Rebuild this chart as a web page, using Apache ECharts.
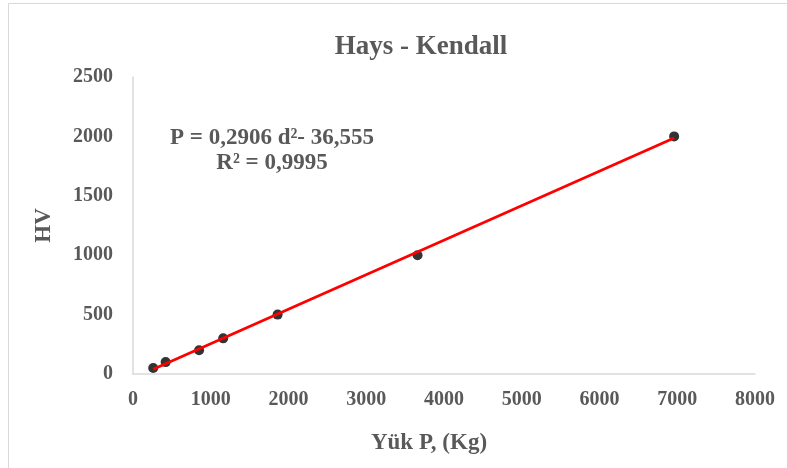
<!DOCTYPE html>
<html>
<head>
<meta charset="utf-8">
<script src="https://cdn.jsdelivr.net/npm/echarts@6/dist/echarts.min.js"></script>
<style>
html,body{margin:0;padding:0;background:#fff;}
#c{width:787px;height:468px;}
</style>
</head>
<body>
<div id="c"></div>
<script>
// Data
var loadKg = [260, 420, 850, 1160, 1860, 3660, 6960];
var hardnessHV = [50, 100, 200, 300, 500, 1000, 2000];
// Trendline endpoints (as drawn)
var trendX = [260, 6960];
var trendY = [39, 1986];
var xTicks = [0, 1000, 2000, 3000, 4000, 5000, 6000, 7000, 8000];
var yTicks = [0, 500, 1000, 1500, 2000, 2500];
var titleText = 'Hays - Kendall';
var xName = 'Yük P, (Kg)';
var yName = 'HV';
var eqLine1 = 'P = 0,2906 d²- 36,555';
var eqLine2 = 'R² = 0,9995';

var FONT = '"Liberation Serif", "Times New Roman", serif';
var TXT = '#595959';

var chart = echarts.init(document.getElementById('c'), null, {renderer: 'canvas'});
chart.setOption({
  animation: false,
  backgroundColor: '#fff',
  graphic: [{
    type: 'rect', silent: true, z: -10,
    shape: {x: 8.5, y: 3.5, width: 800, height: 500},
    style: {fill: '#fff', stroke: '#d9d9d9', lineWidth: 1}
  }],
  title: [{
    text: titleText, left: 416, top: 29, textAlign: 'center',
    textStyle: {fontFamily: FONT, fontWeight: 'bold', fontSize: 27, color: TXT}
  }, {
    text: eqLine1 + '\n' + eqLine2, left: 267, top: 121, textAlign: 'center',
    textStyle: {fontFamily: FONT, fontWeight: 'bold', fontSize: 23, color: TXT, lineHeight: 25, align: 'center'}
  }, {
    text: xName, left: 424, top: 427, textAlign: 'center',
    textStyle: {fontFamily: FONT, fontWeight: 'bold', fontSize: 23, color: TXT}
  }],
  grid: {left: 133, right: 32, top: 77, bottom: 94, containLabel: false},
  xAxis: {
    type: 'value', min: xTicks[0], max: xTicks[xTicks.length - 1], interval: 1000,
    axisLine: {show: true, lineStyle: {color: '#d9d9d9', width: 1.5}},
    axisTick: {show: false},
    splitLine: {show: false},
    axisLabel: {margin: 16, fontFamily: FONT, fontWeight: 'bold', fontSize: 20, color: TXT,
      formatter: function (v) { return String(v); }}
  },
  yAxis: {
    type: 'value', min: yTicks[0], max: yTicks[yTicks.length - 1], interval: 500,
    name: yName, nameLocation: 'middle', nameGap: 77, nameRotate: 90,
    nameTextStyle: {fontFamily: FONT, fontWeight: 'bold', fontSize: 23, color: TXT},
    axisLine: {show: true, lineStyle: {color: '#d9d9d9', width: 1.5}},
    axisTick: {show: false},
    splitLine: {show: false},
    axisLabel: {margin: 20, fontFamily: FONT, fontWeight: 'bold', fontSize: 20, color: TXT,
      formatter: function (v) { return String(v); }}
  },
  series: [{
    type: 'scatter',
    data: loadKg.map(function (x, i) { return [x, hardnessHV[i]]; }),
    symbol: 'circle', symbolSize: 10,
    itemStyle: {color: '#000'},
    z: 2
  }, {
    type: 'line',
    data: trendX.map(function (x, i) { return [x, trendY[i]]; }),
    showSymbol: false, symbol: 'none',
    lineStyle: {color: '#ff0000', width: 2.75},
    z: 3
  }]
});
</script>
</body>
</html>
